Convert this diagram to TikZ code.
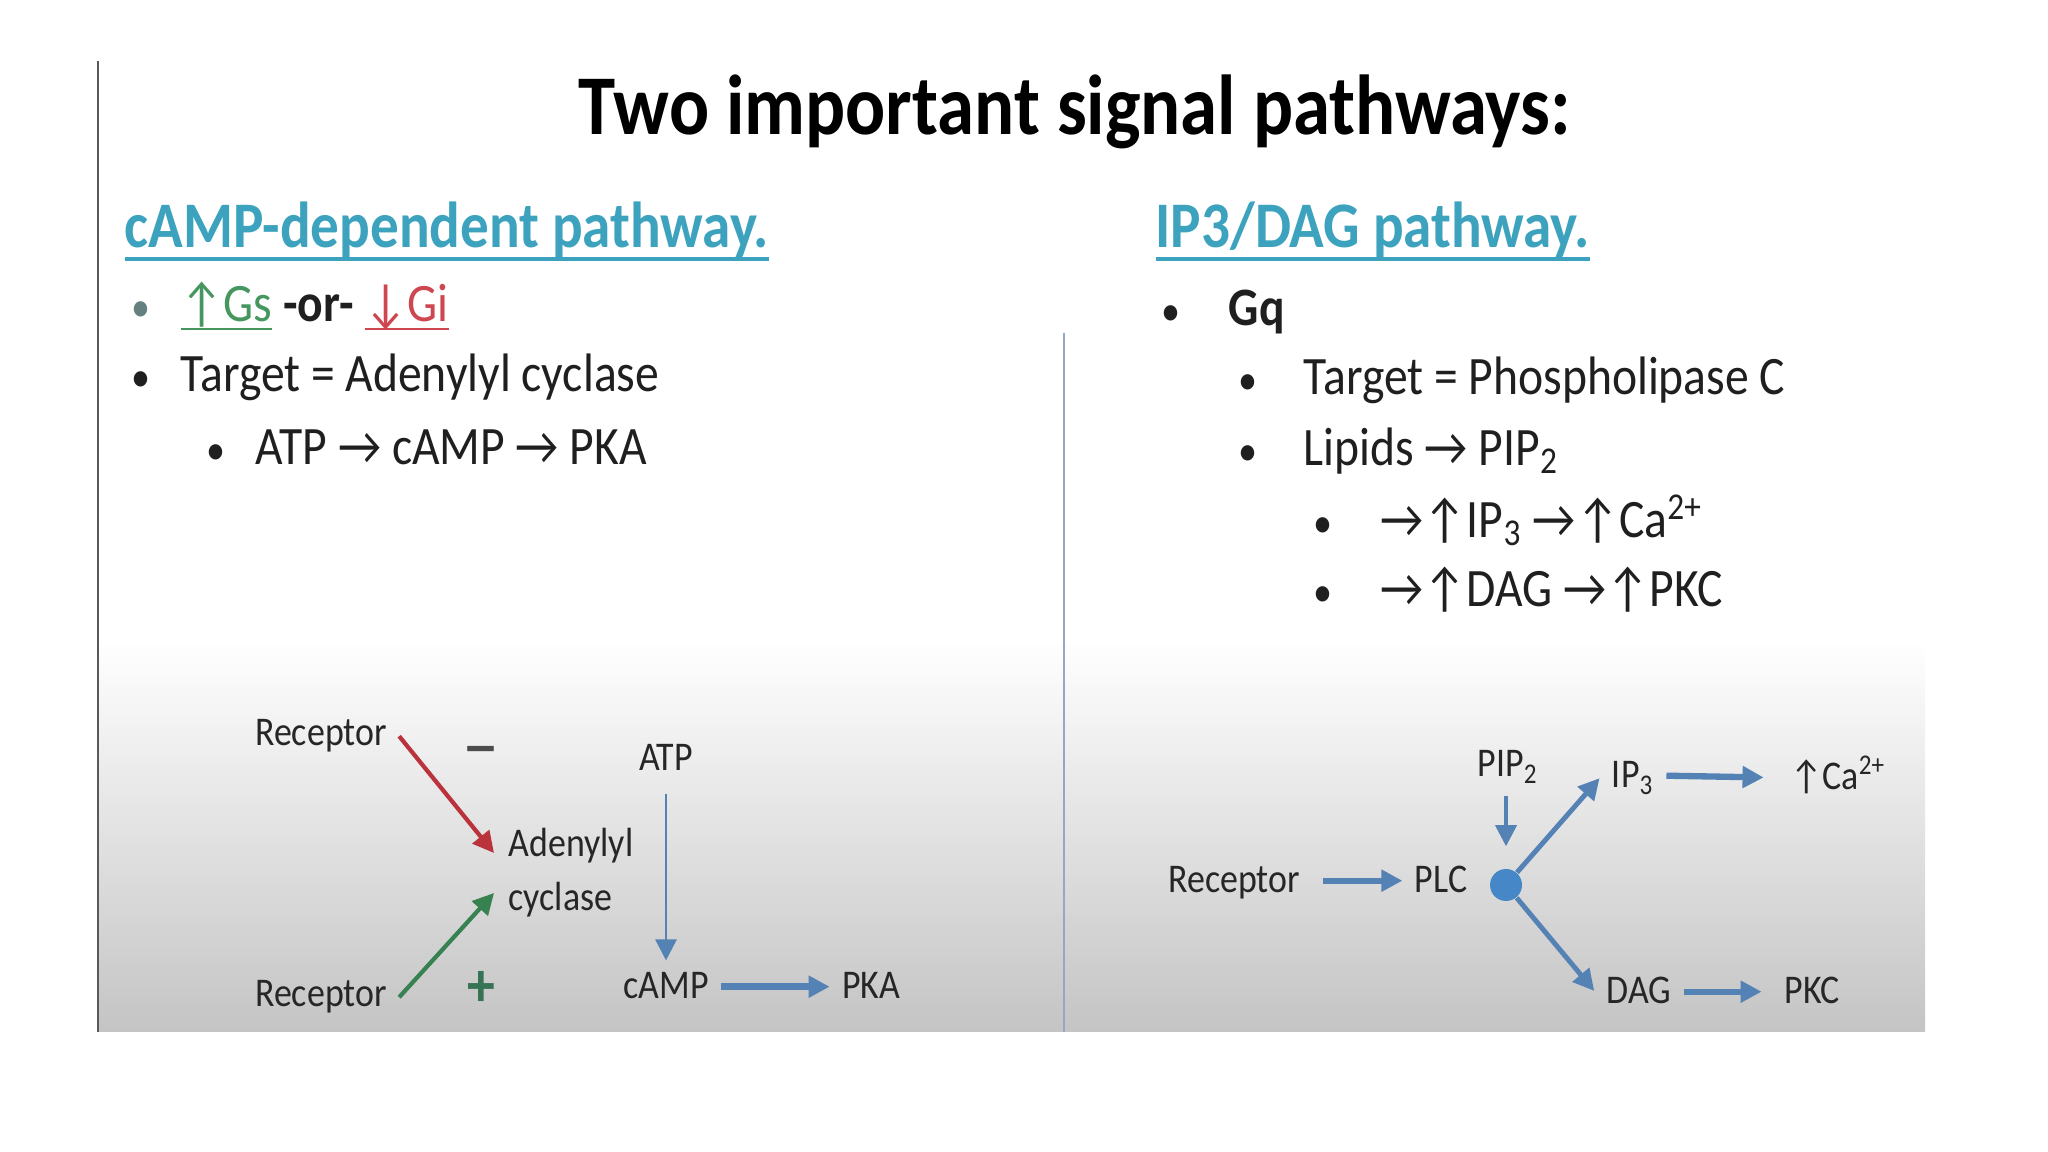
\documentclass[tikz,border=0pt]{standalone}
\usepackage{fontspec}
\setmainfont{Carlito}[FakeStretch=0.88]
\usepackage{xcolor}
\usepackage{tikz}
\usetikzlibrary{arrows.meta, positioning, calc}
\definecolor{HeadTeal}{RGB}{60,162,190}
\definecolor{PathBlue}{RGB}{84,130,180}
\definecolor{HubBlue}{RGB}{70,135,200}
\definecolor{UpGreen}{RGB}{70,150,95}
\definecolor{DownRed}{RGB}{205,70,80}
\definecolor{ArrRed}{RGB}{185,50,60}
\definecolor{ArrGreen}{RGB}{55,130,80}
\definecolor{SignGreen}{RGB}{55,115,85}
\definecolor{PanelGray}{RGB}{196,196,196}
\definecolor{RuleGray}{RGB}{150,168,190}
\newcommand{\ulined}[3]{\setbox0\hbox{#3}\rlap{\rule[-#1]{\wd0}{#2}}\box0}
\newcommand{\bul}{\scalebox{0.8}{•}}

\begin{document}
\begin{tikzpicture}[x=0.1mm, y=-0.1mm, >={Triangle[length=6pt, width=6pt]}]
      \tikzstyle{bullettxt} = [anchor=base west, inner sep=0pt, text=black!88, font=\fontsize{15.4}{18}\selectfont]
      \tikzstyle{headtxt} = [anchor=base west, inner sep=0pt, text=HeadTeal, font=\fontsize{18.5}{22}\selectfont\bfseries]
      \tikzstyle{diag} = [anchor=base, text=black!85, font=\fontsize{11.6}{15.3}\selectfont]
      \tikzstyle{sign} = [anchor=center, inner sep=0pt, font=\fontsize{18}{20}\selectfont\bfseries]
      \tikzstyle{flow} = [->, PathBlue]

      \useasboundingbox (0,0) rectangle (2048,1152);
      % Slide background
      \shade[top color=white, bottom color=PanelGray] (98,640) rectangle (1925,1032);
      \draw[gray!70!black, line width=0.6pt] (98,61) -- (98,1032);
      \draw[RuleGray, line width=0.5pt] (1064,333) -- (1064,1032);

      % Title
      \node (title) [anchor=base, font=\fontsize{24.2}{29}\selectfont\bfseries] at (1075,135) {Two important signal pathways:};

      % cAMP column
      \node (hcamp) [headtxt] at (124,248) {\ulined{3.7pt}{1.1pt}{cAMP-dependent pathway.}};
      \node (gsgi) [bullettxt] at (131,322) {\makebox[4.9mm][l]{\textcolor{gray!80!teal}{\bul}}\textcolor{UpGreen}{\ulined{2.4pt}{0.8pt}{↑Gs}} \textbf{-or-} \textcolor{DownRed}{\ulined{2.4pt}{0.8pt}{↓Gi}}};
      \node (tgtac) [bullettxt] at (131,392) {\makebox[4.9mm][l]{\bul}Target = Adenylyl cyclase};
      \node (atpseq) [bullettxt] at (206,465) {\makebox[4.9mm][l]{\bul}ATP → cAMP → PKA};

      % IP3/DAG column
      \node (hip) [headtxt] at (1155,248) {\ulined{3.7pt}{1.1pt}{IP3/DAG pathway.}};
      \node (gq) [bullettxt] at (1161,326) {\makebox[6.7mm][l]{\bul}\textbf{Gq}};
      \node (tgtplc) [bullettxt] at (1238,395) {\makebox[6.5mm][l]{\bul}Target = Phospholipase C};
      \node (lipseq) [bullettxt] at (1238,466) {\makebox[6.5mm][l]{\bul}Lipids → PIP\textsubscript{2}};
      \node (ipseq) [bullettxt] at (1313,538) {\makebox[6.7mm][l]{\bul}→↑IP\textsubscript{3} →↑Ca\textsuperscript{2+}};
      \node (dagseq) [bullettxt] at (1313,607) {\makebox[6.7mm][l]{\bul}→↑DAG →↑PKC};

      % cAMP diagram
      \node (recinh) [diag] at (321,746) {Receptor};
      \node (minus) [sign, font=\fontsize{24}{26}\selectfont, text=black!70] at (481,759) {–};
      \node (atp) [diag] at (666,771) {ATP};
      \node (adc) [diag, anchor=west, align=left, inner sep=4pt] at (494,873) {Adenylyl\\cyclase};
      \node (recact) [diag] at (321,1007) {Receptor};
      \node (plus) [sign, text=SignGreen] at (481,989) {+};
      \node (camp) [diag] at (666,999) {cAMP};
      \node (pka) [diag] at (871,999) {PKA};

      \draw[->, ArrRed, line width=1.2pt] (recinh.east) -- ([yshift=2mm]adc.west);
      \draw[->, ArrGreen, line width=1.2pt] (recact.east) -- ([yshift=-2mm]adc.west);
      \draw[flow, line width=0.8pt, shorten <=3pt] (atp) -- (camp);
      \draw[flow, line width=2pt] ([yshift=3.5pt]camp.base east) -- ([yshift=3.5pt]pka.base west);

      % IP3/DAG diagram
      \node (recplc) [diag] at (1234,893) {Receptor};
      \node (plc) [diag] at (1441,893) {PLC};
      \node (hub) [circle, fill=HubBlue, minimum size=3.2mm, inner sep=0pt] at (1506,885) {};
      \node (pip) [diag] at (1508,777) {PIP\textsubscript{2}};
      \node (ip3) [diag] at (1633,788) {IP\textsubscript{3}};
      \node (ca) [diag] at (1838,790) {↑Ca\textsuperscript{2+}};
      \node (dag) [diag] at (1639,1004) {DAG};
      \node (pkc) [diag] at (1812,1004) {PKC};

      \draw[flow, line width=1.8pt, shorten <=3pt] ([yshift=3.5pt]recplc.base east) -- ([yshift=3.5pt]plc.base west);
      \draw[flow, line width=1pt, shorten >=2.2mm] (hub |- pip.south) -- (hub.north);
      \draw[flow, line width=1.4pt] (hub) -- (ip3.west);
      \draw[flow, line width=1.4pt] (hub) -- (dag.west);
      \draw[flow, line width=1.8pt, shorten >=4pt] ([yshift=3.5pt]ip3.base east) -- ([yshift=3.5pt]ca.base west);
      \draw[flow, line width=1.8pt, shorten >=3pt] ([yshift=3.5pt]dag.base east) -- ([yshift=3.5pt]pkc.base west);
    \end{tikzpicture}
\end{document}
